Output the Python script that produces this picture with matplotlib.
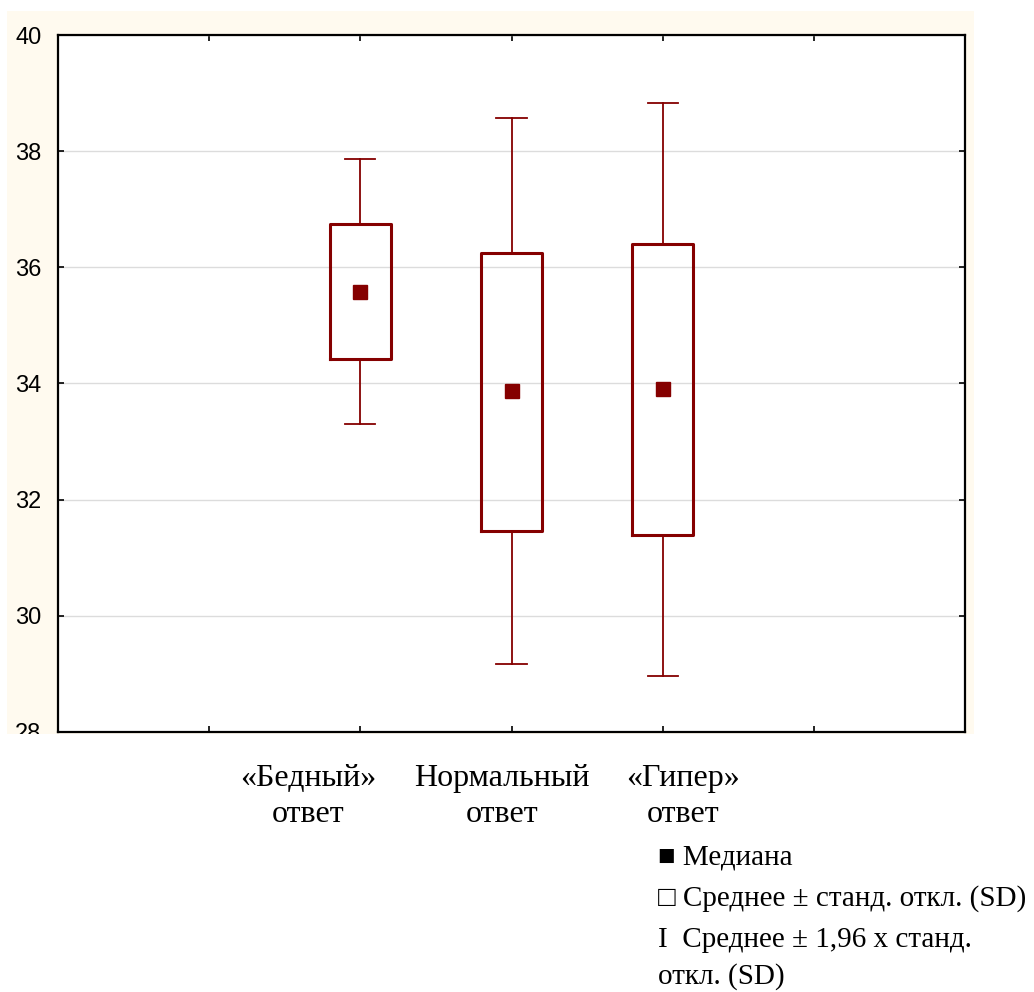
import matplotlib
matplotlib.use("Agg")
import matplotlib.pyplot as plt
from matplotlib.patches import Rectangle
from matplotlib.transforms import Bbox, TransformedBbox

# Values
groups = ["«Бедный»\nответ", "Нормальный\nответ", "«Гипер»\nответ"]
positions = [2, 3, 4]
medians = [35.58, 33.87, 33.90]
sd_low = [34.42, 31.46, 31.39]
sd_high = [36.74, 36.25, 36.40]
ci_low = [33.30, 29.17, 28.96]
ci_high = [37.86, 38.57, 38.83]
yticks = [28, 30, 32, 34, 36, 38, 40]
legend_lines = ["■ Медиана", "□ Среднее ± станд. откл. (SD)",
                "I  Среднее ± 1,96 x станд.", "откл. (SD)"]

boxcol = "#850000"
serif = ["Liberation Serif", "DejaVu Serif"]

fig = plt.figure(figsize=(10.34, 9.92), dpi=100)
fig.patch.set_facecolor("white")

# cream background behind the plot area
bg = Rectangle((7/1034, 1-734/992), (974-7)/1034, (734-11)/992,
               transform=fig.transFigure, facecolor="#fffaef", edgecolor="none", zorder=-10)
fig.patches.append(bg)

ax = fig.add_axes([58/1034, 1-732/992, (965-58)/1034, (732-35)/992])
ax.set_facecolor("white")

stats = []
for i in range(len(groups)):
    stats.append({"med": medians[i], "q1": sd_low[i], "q3": sd_high[i],
                  "whislo": ci_low[i], "whishi": ci_high[i], "fliers": []})
ax.bxp(stats, positions=positions, widths=0.4, capwidths=0.2, showfliers=False,
       boxprops=dict(color=boxcol, linewidth=2.2),
       whiskerprops=dict(color=boxcol, linewidth=1.3),
       capprops=dict(color=boxcol, linewidth=1.3),
       medianprops=dict(linewidth=0), manage_ticks=False, zorder=3)
ax.plot(positions, medians, "s", color=boxcol, markersize=9.5, zorder=4)

ax.set_xlim(0, 6)
ax.set_ylim(28, 40)
ax.set_yticks(yticks)
ax.set_xticks([1, 2, 3, 4, 5])
ax.set_xticklabels([])
ax.set_yticklabels([str(v) for v in yticks], family="Liberation Sans", fontsize=17)
ax.yaxis.grid(True, color="#dcdcdc", linewidth=1)
ax.set_axisbelow(True)
ax.tick_params(axis="both", direction="in", length=4, width=1.2, top=True, right=True, color="black")
ax.tick_params(axis="y", pad=12)
for s in ax.spines.values():
    s.set_linewidth(1.6)

# the bottom label is cut by the edge of the cream area, as in the original
clip = TransformedBbox(Bbox([[0, 1-734/992], [1, 1]]), fig.transFigure)
for t in ax.yaxis.get_major_ticks():
    t.label1.set_clip_on(True)
    t.label1.set_clip_box(clip)

# category labels sit a bit left of their ticks in the original
label_x = [308, 502, 683]
for name, xx in zip(groups, label_x):
    fig.text(xx/1034, 1-822/992, name, family=serif, fontsize=23, ha="center",
             va="baseline", linespacing=1.32, multialignment="center")

ys = [857, 899, 940, 977]
for txt, yy in zip(legend_lines, ys):
    fig.text(658/1034, 1-yy/992, txt, family=serif, fontsize=21, va="center", ha="left")

fig.savefig("out.png", dpi=100)
